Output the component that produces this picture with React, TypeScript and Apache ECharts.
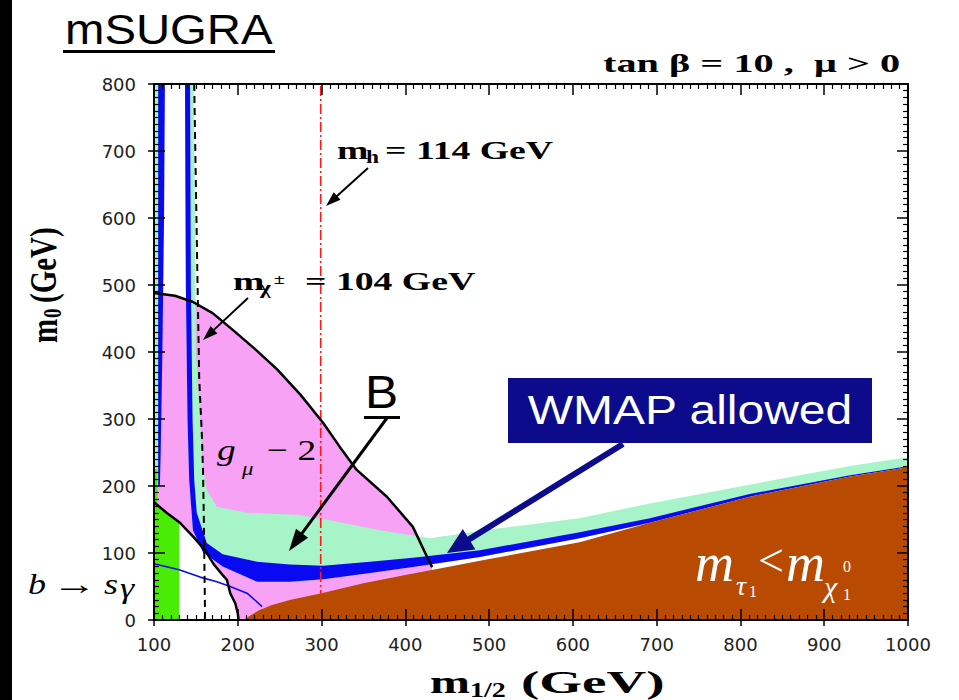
import React, { useEffect, useRef } from "react";
import * as echarts from "echarts";

// Parameter-space axes: m1/2 (GeV) horizontally, m0 (GeV) vertically
const X_MIN = 100;
const X_MAX = 1000;
const Y_MIN = 0;
const Y_MAX = 800;
const STEP = 100;

// g_mu - 2 favoured boundary (solid black curve)
const gm2Boundary = [
  [100, 488], [125, 484], [146, 475], [170, 458], [194, 433], [220, 405],
  [247, 374], [275, 336], [302, 294], [322, 258], [342, 224], [378, 184],
  [409, 139], [426, 94], [432, 79],
];

// b -> s gamma excluded corner (black curve)
const bsgBoundary = [
  [100, 176], [115, 160], [131, 145], [147, 124], [161, 104], [172, 82],
  [182, 67], [187, 60], [191, 40], [197, 25], [200, 10], [201, 0],
];

// thin blue b -> s gamma contour
const bsgBlue = [
  [100, 84], [130, 75], [155, 64], [175, 57], [191, 50], [211, 40], [222, 28], [229, 20],
];

// chargino mass limit, 104 GeV (dashed black)
const charginoLimit = [
  [148, 800], [150, 650], [152, 500], [154, 360], [157, 280], [158.5, 224], [159.5, 150], [161, 0],
];

// Higgs mass limit, 114 GeV (red dash-dot)
const higgsLimit = [[299, 30], [299, 800]];

// stau LSP boundary (brown region below it)
const stauBoundary = [
  [208, 0], [214, 6], [225, 14], [240, 22], [262, 30], [300, 40], [350, 55],
  [400, 67], [441, 77], [500, 91], [608, 116], [692, 145], [811, 184], [931, 214], [1000, 228],
];

// older cosmological band, upper edge (light green)
const cosmoUpper = [
  [147, 800], [149, 600], [150, 400], [155, 300], [158, 230], [163, 194], [175, 169],
  [211, 160], [271, 157], [310, 149], [370, 134], [430, 122], [500, 135], [608, 152],
  [692, 174], [811, 202], [931, 230], [1000, 243],
];

// WMAP band, outer and inner edges (blue)
const wmapOuter = [
  [137, 800], [138, 500], [140, 300], [142, 209], [146.5, 134], [158.5, 101], [182, 80],
  [223, 57], [262, 57], [302, 61], [358, 70], [409, 79], [489, 94], [608, 122],
  [692, 145], [811, 184], [931, 214], [1000, 228],
];
const wmapInner = [
  [143, 800], [144, 500], [146, 300], [148, 209], [151, 160], [163, 115], [182, 98],
  [223, 87], [262, 83], [302, 81], [358, 87], [409, 93], [489, 104], [608, 131],
  [692, 152], [811, 188], [931, 216], [1000, 229.5],
];

// narrow strips near the left edge
const leftCosmoStrip = [[100.6, 200], [100.6, 800], [106, 800], [106, 200]];
const leftWmapStrip = [[105, 200], [105, 800], [113, 800], [112, 600], [110, 400], [108, 250], [107, 200]];

// LEP excluded strip (bright green)
const lepGreen = [[100, 0], [100, 225], [104, 225], [104, 172], [115, 160], [130, 146], [130, 0]];

const SERIF = '"Liberation Serif", "DejaVu Serif", serif';
const SANS = '"Liberation Sans", Arial, sans-serif';

const PINK = "#f7a2f5";
const MINT = "#a6f4c8";
const BLUE = "#0a0af2";
const BROWN = "#b84a02";
const GREEN = "#48ec04";
const NAVY = "#0b0b8c";

const poly = (name: string, pts: number[][], fill: string, z: number) => ({
  type: "custom",
  name,
  z,
  silent: true,
  clip: true,
  data: [pts[0]],
  renderItem: (_p: any, api: any) => ({
    type: "polygon",
    shape: { points: pts.map((p) => api.coord(p)) },
    style: { fill, stroke: null },
  }),
});

const curve = (name: string, pts: number[][], color: string, width: number, z: number, type: any = "solid") => ({
  type: "line",
  name,
  z,
  silent: true,
  showSymbol: false,
  data: pts,
  lineStyle: { color, width, type },
});

type LabelOpts = { sx?: number; sy?: number; rot?: number; family?: string; weight?: string; italic?: boolean; color?: string; align?: string };
const label = (x: number, y: number, text: string, size: number, o: LabelOpts = {}) => ({
  type: "text",
  x,
  y,
  z: 100,
  scaleX: o.sx ?? 1,
  scaleY: o.sy ?? 1,
  rotation: o.rot ?? 0,
  silent: true,
  style: {
    text,
    fontSize: size,
    fontFamily: o.family ?? SERIF,
    fontWeight: o.weight ?? "normal",
    fontStyle: o.italic ? "italic" : "normal",
    fill: o.color ?? "#000",
    align: o.align ?? "left",
    verticalAlign: "middle",
  },
});

const arrow = (x1: number, y1: number, x2: number, y2: number, color: string, w: number, hl: number, hw: number) => {
  const dx = x2 - x1;
  const dy = y2 - y1;
  const L = Math.hypot(dx, dy);
  const ux = dx / L;
  const uy = dy / L;
  const bx = x2 - ux * hl;
  const by = y2 - uy * hl;
  const nx = -uy;
  const ny = ux;
  return [
    { type: "line", z: 100, silent: true, shape: { x1, y1, x2: bx + ux * 2, y2: by + uy * 2 }, style: { stroke: color, lineWidth: w } },
    {
      type: "polygon",
      z: 100,
      silent: true,
      shape: { points: [[x2, y2], [bx + (nx * hw) / 2, by + (ny * hw) / 2], [bx - (nx * hw) / 2, by - (ny * hw) / 2]] },
      style: { fill: color },
    },
  ];
};

const axisBase = (min: number, max: number) => ({
  type: "value",
  min,
  max,
  interval: STEP,
  z: 20,
  splitLine: { show: false },
  minorSplitLine: { show: false },
});

export default function App() {
  const ref = useRef<HTMLDivElement>(null);

  useEffect(() => {
    if (!ref.current) return;
    const chart = echarts.init(ref.current, undefined, { renderer: "svg" });

    const inner = {
      axisLine: { show: true, onZero: false, lineStyle: { color: "#000", width: 2 } },
      axisTick: { show: true, inside: true, length: 11, lineStyle: { color: "#000", width: 1.5 } },
      minorTick: { show: true, splitNumber: 10, length: 5, lineStyle: { color: "#000", width: 1.2 } },
    };
    const outer = {
      axisLine: { show: false, onZero: false },
      axisTick: { show: true, inside: false, length: 6, lineStyle: { color: "#000", width: 1.5 } },
      minorTick: { show: false },
      axisLabel: { show: false },
    };
    const tickFont = {
      fontFamily: '"DejaVu Sans", sans-serif',
      fontSize: 18,
      color: "#222",
      formatter: (v: number) => String(v),
    };

    const graphics: any[] = [
      { type: "rect", z: 100, silent: true, shape: { x: 0, y: 0, width: 12, height: 700 }, style: { fill: "#000" } },
      label(65, 29, "mSUGRA", 43, { family: SANS, sx: 1.1 }),
      { type: "rect", z: 100, silent: true, shape: { x: 63, y: 50, width: 212, height: 3 }, style: { fill: "#000" } },
      label(603, 63, "tan β = 10 ,  μ > 0", 26, { weight: "bold", sx: 1.55 }),

      label(337, 150, "m", 26, { weight: "bold", sx: 1.45 }),
      label(366, 157, "h", 18, { weight: "bold", sx: 1.3 }),
      label(385, 150, "= 114 GeV", 26, { weight: "bold", sx: 1.45 }),
      ...arrow(368, 168, 326, 206, "#000", 2, 15, 10),

      label(233, 281, "m", 26, { weight: "bold", sx: 1.45 }),
      label(260, 288, "χ", 18, { weight: "bold", sx: 1.3 }),
      label(274, 279, "±", 15, { weight: "bold", sx: 1.3 }),
      label(305, 281, "= 104 GeV", 26, { weight: "bold", sx: 1.45 }),
      ...arrow(248, 298, 203, 340, "#000", 2, 15, 10),

      label(365, 392, "B", 46, { family: SANS, sx: 1.08 }),
      { type: "rect", z: 100, silent: true, shape: { x: 364, y: 416, width: 36, height: 3 }, style: { fill: "#000" } },
      ...arrow(387, 418, 289, 551, "#000", 3, 22, 15),

      label(217, 450, "g", 30, { italic: true, sx: 1.25 }),
      label(242, 469, "μ", 19, { italic: true, sx: 1.2 }),
      label(267, 450, "− 2", 30, { sx: 1.25 }),

      label(28, 584, "b", 30, { italic: true, sx: 1.2 }),
      label(52, 584, "→", 30, { sx: 1.5 }),
      label(104, 584, "s", 30, { italic: true, sx: 1.2 }),
      label(120, 588, "γ", 30, { italic: true, sx: 1.2 }),

      label(695, 563, "m", 54, { italic: true, color: "#fff" }),
      label(736, 585, "τ", 28, { italic: true, color: "#fff" }),
      label(749, 591, "1", 16, { color: "#fff" }),
      label(758, 560, "<", 46, { color: "#fff" }),
      label(786, 563, "m", 54, { italic: true, color: "#fff" }),
      label(824, 586, "χ", 30, { italic: true, color: "#fff" }),
      label(843, 594, "1", 16, { color: "#fff" }),
      label(843, 566, "0", 16, { color: "#fff" }),

      { type: "rect", z: 100, silent: true, shape: { x: 508, y: 378, width: 364, height: 65 }, style: { fill: NAVY } },
      label(690, 410, "WMAP allowed", 40, { family: SANS, color: "#fff", sx: 1.2, align: "center" }),
      ...arrow(623, 444, 447, 553, NAVY, 6, 26, 24),

      // axis titles
      label(430, 682, "m", 32, { weight: "bold", sx: 1.5 }),
      label(470, 690, "1/2", 20, { weight: "bold", sx: 1.4 }),
      label(521, 682, "(GeV)", 32, { weight: "bold", sx: 1.72 }),
      label(44, 343, "m", 29, { weight: "bold", rot: Math.PI / 2, sy: 1.3 }),
      label(53, 318, "0", 19, { weight: "bold", rot: Math.PI / 2, sy: 1.3 }),
      label(43, 303, "(GeV)", 29, { weight: "bold", rot: Math.PI / 2, sy: 1.3 }),
    ];

    chart.setOption({
      animation: false,
      backgroundColor: "#fff",
      grid: { left: 154, right: 51, top: 84, bottom: 80, containLabel: false },
      xAxis: [
        { ...axisBase(X_MIN, X_MAX), position: "bottom", ...inner, axisLabel: { ...tickFont, margin: 15 } },
        { ...axisBase(X_MIN, X_MAX), position: "top", ...inner, axisLabel: { show: false } },
        { ...axisBase(X_MIN, X_MAX), position: "bottom", ...outer },
      ],
      yAxis: [
        { ...axisBase(Y_MIN, Y_MAX), position: "left", ...inner, axisLabel: { ...tickFont, margin: 18 } },
        { ...axisBase(Y_MIN, Y_MAX), position: "right", ...inner, axisLabel: { show: false } },
        { ...axisBase(Y_MIN, Y_MAX), position: "left", ...outer },
      ],
      series: [
        poly("g-2", [[100, 0], [100, 488], ...gm2Boundary, [432, 70], [432, 0]], PINK, 1),
        poly("bsg excluded", [[100, 0], ...bsgBoundary], "#fff", 2),
        poly("cosmo left", leftCosmoStrip, MINT, 3),
        poly("wmap left", leftWmapStrip, BLUE, 4),
        poly("LEP", lepGreen, GREEN, 5),
        poly("cosmo", [...cosmoUpper, ...wmapOuter.slice().reverse()], MINT, 6),
        poly("wmap", [...wmapOuter, ...wmapInner.slice().reverse()], BLUE, 7),
        curve("m_h", higgsLimit, "#ff1a1a", 1.6, 8, [10, 3, 2, 3]),
        poly("stau LSP", [...stauBoundary, [1000, 0]], BROWN, 9),
        curve("bsg blue", bsgBlue, BLUE, 1.6, 10),
        curve("bsg", bsgBoundary, "#000", 2.5, 11),
        curve("chargino", charginoLimit, "#000", 2, 11, [7, 5]),
        curve("g-2 edge", gm2Boundary, "#000", 2.5, 11),
      ],
      graphic: { elements: graphics },
    });

    return () => chart.dispose();
  }, []);

  return (
    <div
      ref={ref}
      style={{ position: "fixed", left: 0, top: 0, width: 959, height: 700, background: "#fff" }}
    />
  );
}
